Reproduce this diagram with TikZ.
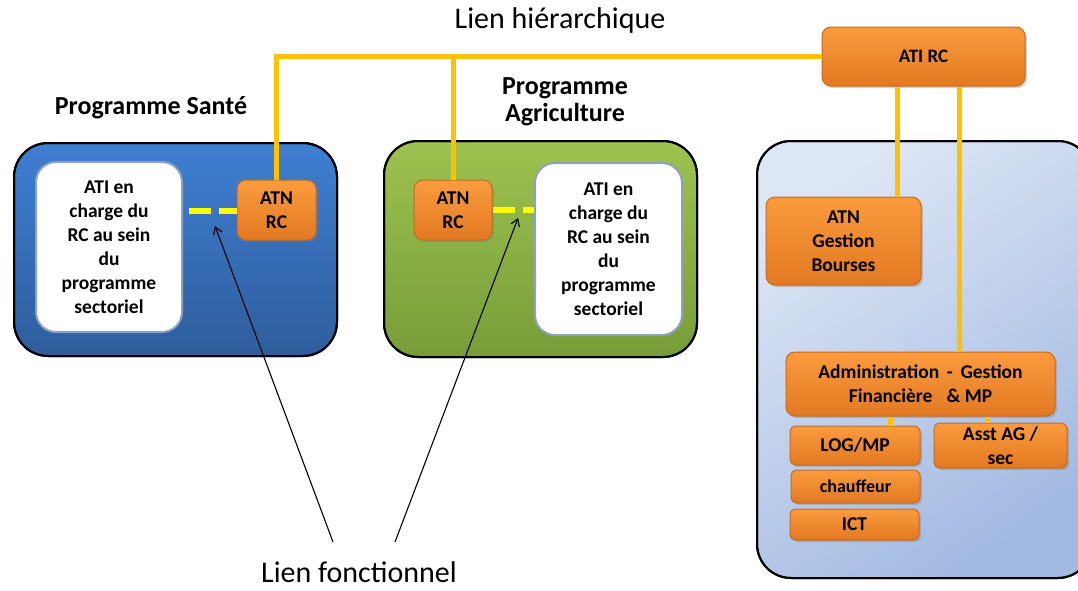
\documentclass[tikz,border=0pt]{standalone}
\usepackage{fontspec}
\setmainfont{Carlito}
\usepackage{tikz}
\usetikzlibrary{arrows.meta,positioning,shadows,calc}
\definecolor{corgtop}{HTML}{FB9B3E}
\definecolor{corgbot}{HTML}{E27922}
\definecolor{corgline}{HTML}{C96A1C}
\definecolor{cbluetop}{HTML}{3F7FD2}
\definecolor{cbluebot}{HTML}{2E5D9C}
\definecolor{cgrntop}{HTML}{9DC24F}
\definecolor{cgrnbot}{HTML}{779D39}
\definecolor{cpaletop}{HTML}{DDE6F4}
\definecolor{cpalebot}{HTML}{A2B9E2}
\definecolor{chier}{HTML}{FFC000}
\definecolor{cfonc}{HTML}{FFFF00}
\definecolor{ccell}{HTML}{3D6496}
\tikzset{
  box/.style={rounded corners=9pt, inner sep=2pt, align=center, font=\bfseries\fontsize{19.5}{24}\selectfont},
  unit/.style={box, draw=corgline, line width=1pt, top color=corgtop, bottom color=corgbot,
    drop shadow={opacity=0.35, shadow xshift=2pt, shadow yshift=-2pt}},
  cell/.style={box, draw=ccell!60, line width=2pt, fill=white, rounded corners=20pt},
  zone/.style={draw=black, line width=2pt, rounded corners=34pt},
  hier/.style={draw=chier, line width=5pt},
  fonc/.style={draw=cfonc, line width=6pt, dash pattern=on 22pt off 8pt},
  ptr/.style={-{Straight Barb[length=7pt,width=9pt]}, line width=1.1pt},
  lbl/.style={font=\fontsize{30}{34}\selectfont, inner sep=0pt},
  title/.style={align=center, font=\bfseries\fontsize{26}{30}\selectfont},
}
\begin{document}
\begin{tikzpicture}[x=1pt,y=-1pt]
\useasboundingbox (0,0) rectangle (1078,590);
% containers
\fill[zone, top color=cbluetop, bottom color=cbluebot] (14,143) rectangle (337,356);
\fill[zone, top color=cgrntop, bottom color=cgrnbot] (384,141) rectangle (697,357);
\fill[zone, top color=cpaletop, bottom color=cpalebot, shading angle=35] (757,141) rectangle (1092,578);
\draw[zone] (14,143) rectangle (337,356);
\draw[zone] (384,141) rectangle (697,357);
\draw[zone] (757,141) rectangle (1092,578);
\node[title] (tsante) at (151,108) {Programme Santé};
\node[title] (tagri) at (565,102) {Programme\\[-3pt]Agriculture};
% nodes
\node[cell, minimum width=146pt, minimum height=170pt] (atiS) at (109,247) {ATI en\\charge du\\RC au sein\\du\\programme\\sectoriel};
\node[unit, minimum width=79pt, minimum height=60pt] (atnS) at (276.5,210) {ATN\\RC};
\node[unit, minimum width=78pt, minimum height=60pt] (atnA) at (453,210) {ATN\\RC};
\node[cell, minimum width=147pt, minimum height=172pt] (atiA) at (608.5,249) {ATI en\\charge du\\RC au sein\\du\\programme\\sectoriel};
\node[unit, minimum width=203pt, minimum height=59pt, font=\bfseries\fontsize{19}{22}\selectfont] (atirc) at (923.5,56.5) {ATI RC};
\node[unit, minimum width=155pt, minimum height=88pt] (atnG) at (843.5,241) {ATN\\Gestion\\Bourses};
\node[unit, minimum width=269pt, minimum height=64pt] (admin) at (920.5,384) {Administration \,-\, Gestion\\Financière \; \& MP};
\node[unit, minimum width=130pt, minimum height=39pt, rounded corners=6pt] (log) at (855,445.5) {LOG/MP};
\node[unit, minimum width=129pt, minimum height=33pt, rounded corners=6pt, font=\bfseries\fontsize{18}{20}\selectfont] (chauf) at (855.5,486.5) {chauffeur};
\node[unit, minimum width=129pt, minimum height=31pt, rounded corners=6pt] (ict) at (854.5,524.5) {ICT};
\node[unit, minimum width=133pt, minimum height=45pt, rounded corners=6pt] (asst) at (1000.5,445.5) {Asst AG /\\sec};
% lien hierarchique
\draw[hier] (atirc.west) -| (atnS.north);
\draw[hier] (atnA.north) -- (atnA.north |- atirc.west);
\draw[hier] ([xshift=-26.5pt]atirc.south) -- ([xshift=-26.5pt]atirc.south |- atnG.north);
\draw[hier] ([xshift=35.5pt]atirc.south) -- ([xshift=35.5pt]atirc.south |- admin.north);
\draw[hier] ([xshift=-30.5pt]admin.south) -- ([xshift=-30.5pt]admin.south |- log.north);
\draw[hier] ([xshift=66.5pt]admin.south) -- ([xshift=66.5pt]admin.south |- asst.north);
% lien fonctionnel
\draw[fonc] (atiS.east) ++(6,-36) coordinate (fs) -- (fs -| atnS.west);
\draw[fonc] (atnA.east) -- (atnA.east -| atiA.west);
\node[lbl] (hiertxt) at (560,20) {Lien hiérarchique};
\node[lbl] (fonctxt) at (359,572) {Lien fonctionnel};
\coordinate (fsS) at (215,226);
\coordinate (fsA) at (518,218);
\coordinate (ftS) at (333,542);
\coordinate (ftA) at (395,542);
\draw[ptr] (ftS) -- (fsS);
\draw[ptr] (ftA) -- (fsA);
\end{tikzpicture}
\end{document}
